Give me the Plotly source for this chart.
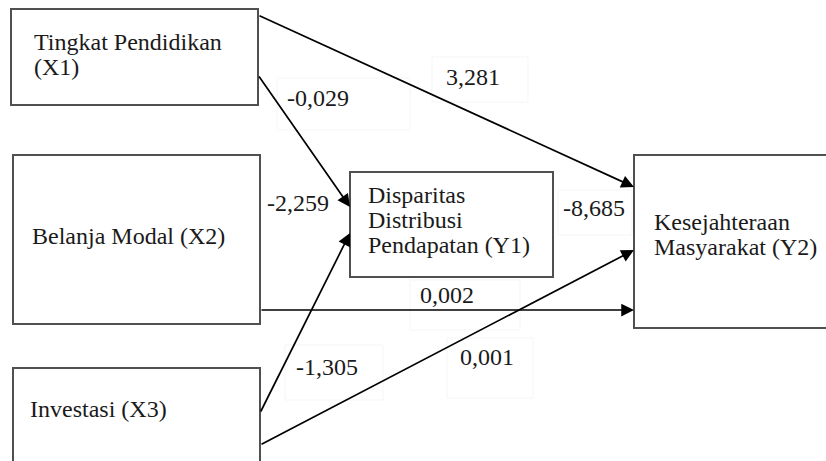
import plotly.graph_objects as go

# ---- data ----
node_ids = ["X1", "X2", "X3", "Y1", "Y2"]
node_lines = {
    "X1": ["Tingkat Pendidikan", "(X1)"],
    "X2": ["Belanja Modal (X2)"],
    "X3": ["Investasi (X3)"],
    "Y1": ["Disparitas", "Distribusi", "Pendapatan (Y1)"],
    "Y2": ["Kesejahteraan", "Masyarakat (Y2)"],
}
edge_from = ["X1", "X1", "X2", "X3", "X3", "Y1"]
edge_to = ["Y2", "Y1", "Y2", "Y1", "Y2", "Y2"]
edge_coef = ["3,281", "-0,029", "0,002", "-1,305", "0,001", "-8,685"]
extra_labels = ["-2,259"]

# ---- layout geometry (pixel space) ----
W, H = 826, 461
boxes = {  # x0, y0, x1, y1
    "X1": (11, 9, 258, 105),
    "X2": (13, 155, 260, 324),
    "X3": (13, 368, 260, 462),
    "Y1": (350, 172, 553, 277),
    "Y2": (634, 155, 840, 328),
}
text_pos = {  # left x, first-line y, line pitch
    "X1": (32, 42, 25),
    "X2": (30, 236, 25),
    "X3": (28, 409, 25),
    "Y1": (366, 195, 25),
    "Y2": (652, 222, 25),
}
edge_geom = [  # tail (x,y), tip (x,y)
    ((258, 15), (634, 187)),
    ((258, 75), (350, 207)),
    ((260, 310), (634, 310)),
    ((260, 413), (350, 233)),
    ((260, 445), (634, 250)),
    None,
]
label_pos = [(473, 77), (318, 98), (447, 295), (327, 367), (487, 357), (594, 208)]
extra_label_pos = [(298, 203)]
label_boxes = [(432, 57, 528, 102), (277, 78, 410, 130), (410, 280, 520, 330),
               (285, 345, 383, 400), (447, 338, 533, 398), (558, 190, 632, 235)]

FONT = "Liberation Serif"
fig = go.Figure()
shapes = []
annotations = []

# faint label boxes
for (x0, y0, x1, y1) in label_boxes:
    shapes.append(dict(type="rect", xref="x", yref="y", x0=x0, y0=y0, x1=x1, y1=y1,
                       line=dict(color="#f5f5f5", width=1), layer="below"))

# node boxes
for nid in node_ids:
    x0, y0, x1, y1 = boxes[nid]
    shapes.append(dict(type="rect", xref="x", yref="y", x0=x0, y0=y0, x1=x1, y1=y1,
                       line=dict(color="#505050", width=2), fillcolor="rgba(0,0,0,0)"))
    tx, ty, pitch = text_pos[nid]
    for i, line in enumerate(node_lines[nid]):
        annotations.append(dict(x=tx, y=ty + i * pitch, xref="x", yref="y", text=line,
                                showarrow=False, xanchor="left", yanchor="middle",
                                font=dict(family=FONT, size=24, color="#1a1a1a")))

# edges
for geom, coef, (lx, ly) in zip(edge_geom, edge_coef, label_pos):
    if geom is not None:
        (ax, ay), (x, y) = geom
        annotations.append(dict(x=x, y=y, ax=ax, ay=ay, xref="x", yref="y",
                                axref="x", ayref="y", text="", showarrow=True,
                                arrowhead=2, arrowsize=1.5, arrowwidth=1.7,
                                arrowcolor="#000000", standoff=0, startstandoff=0))
    annotations.append(dict(x=lx, y=ly, xref="x", yref="y", text=coef, showarrow=False,
                            xanchor="center", yanchor="middle",
                            font=dict(family=FONT, size=24, color="#1a1a1a")))
for txt, (lx, ly) in zip(extra_labels, extra_label_pos):
    annotations.append(dict(x=lx, y=ly, xref="x", yref="y", text=txt, showarrow=False,
                            xanchor="center", yanchor="middle",
                            font=dict(family=FONT, size=24, color="#1a1a1a")))

fig.update_layout(
    width=W, height=H,
    margin=dict(l=0, r=0, t=0, b=0),
    paper_bgcolor="white", plot_bgcolor="white",
    font=dict(family=FONT),
    xaxis=dict(range=[0, W], visible=False, fixedrange=True),
    yaxis=dict(range=[H, 0], visible=False, fixedrange=True),
    shapes=shapes, annotations=annotations, showlegend=False,
)
fig.write_html("out.html", config={"displayModeBar": False},
               post_script="document.body.style.margin='0';document.body.style.overflow='hidden';")
